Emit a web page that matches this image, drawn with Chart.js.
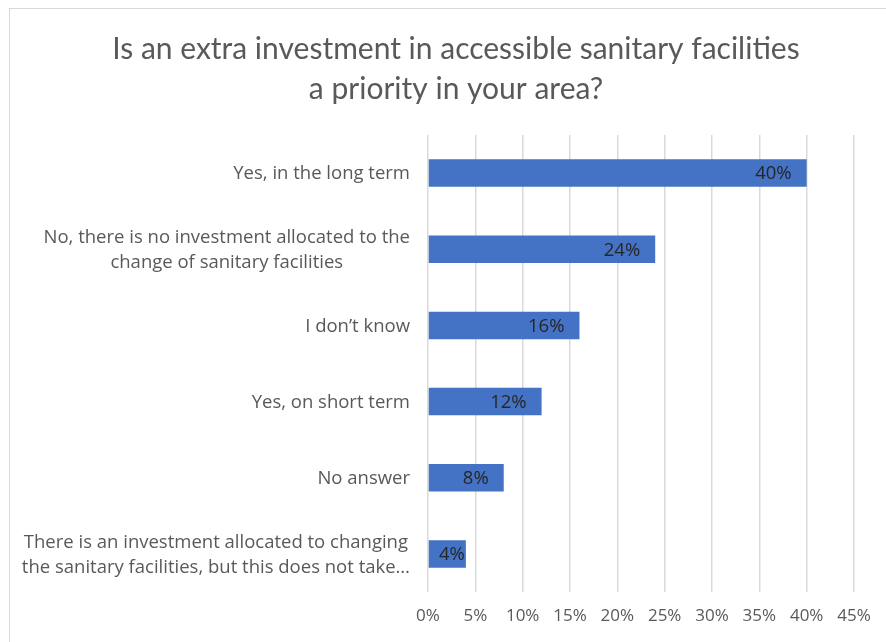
<!DOCTYPE html>
<html>
<head>
<meta charset="utf-8">
<script src="https://cdn.jsdelivr.net/npm/chart.js@4"></script>
<style>
  html, body { margin: 0; padding: 0; background: #fff; overflow: hidden; }
  #box {
    position: absolute; left: 9px; top: 8px;
    width: 897px; height: 638px;
    border: 1px solid #d9d9d9;
  }
</style>
</head>
<body>
<div id="box"><canvas id="bars"></canvas></div>
<script>
// survey answers, top to bottom
var categories = [
  ['Yes, in the long term'],
  ['No, there is no investment allocated to the', 'change of sanitary facilities'],
  ['I don\u2019t know'],
  ['Yes, on short term'],
  ['No answer'],
  ['There is an investment allocated to changing', 'the sanitary facilities, but this does not take\u2026']
];
var shares = [40, 24, 16, 12, 8, 4];
var xTicks = [0, 5, 10, 15, 20, 25, 30, 35, 40, 45];
var titleLines = ['Is an extra investment in accessible sanitary facilities', 'a priority in your area?'];

var grey = '#595959';
var font = '"Open Sans", Lato, sans-serif';

// two-line heading, centred on the whole box
var heading = {
  id: 'heading',
  afterDraw: function (chart) {
    var ctx = chart.ctx;
    ctx.save();
    ctx.font = '30px Lato, sans-serif';
    ctx.fillStyle = grey;
    ctx.textAlign = 'center';
    ctx.textBaseline = 'middle';
    titleLines.forEach(function (t, k) { ctx.fillText(t, 446, 40 + k * 40); });
    ctx.restore();
  }
};

// y labels: block right-aligned to the axis, lines centred inside the block
var categoryLabels = {
  id: 'categoryLabels',
  afterDraw: function (chart) {
    var ctx = chart.ctx, y = chart.scales.y;
    ctx.save();
    ctx.font = '18.5px ' + font;
    ctx.fillStyle = grey;
    ctx.textAlign = 'center';
    ctx.textBaseline = 'middle';
    var right = y.right - 18;
    var lh = 25;
    categories.forEach(function (lines, i) {
      var w = Math.max.apply(null, lines.map(function (t) { return ctx.measureText(t).width; }));
      var cx = right - w / 2;
      var cy = y.getPixelForTick(i) + 1 - (lines.length - 1) * lh / 2;
      lines.forEach(function (t, k) { ctx.fillText(t, cx, cy + k * lh); });
    });
    ctx.restore();
  }
};

// value labels at the inner end of each bar
var valueLabels = {
  id: 'valueLabels',
  afterDatasetsDraw: function (chart) {
    var ctx = chart.ctx;
    ctx.save();
    ctx.font = '18.5px ' + font;
    ctx.fillStyle = '#262626';
    ctx.textAlign = 'right';
    ctx.textBaseline = 'middle';
    chart.getDatasetMeta(0).data.forEach(function (bar, i) {
      var txt = shares[i] + '%';
      var w = ctx.measureText(txt).width;
      var x = bar.x - 15;
      if (x - w < bar.base + 4) x = bar.x - 1;
      ctx.fillText(txt, x, bar.y + 1);
    });
    ctx.restore();
  }
};

new Chart(document.getElementById('bars'), {
  type: 'bar',
  data: {
    labels: categories,
    datasets: [{
      data: shares,
      backgroundColor: '#4472C4',
      borderWidth: 0,
      categoryPercentage: 0.8,
      barPercentage: 0.45
    }]
  },
  options: {
    indexAxis: 'y',
    responsive: true,
    maintainAspectRatio: false,
    animation: false,
    layout: { padding: { left: 0, right: 53, top: 126, bottom: 0 } },
    plugins: {
      legend: { display: false },
      tooltip: { enabled: false },
      title: { display: false }
    },
    scales: {
      x: {
        min: 0,
        max: 45,
        afterBuildTicks: function (s) { s.ticks = xTicks.map(function (v) { return { value: v }; }); },
        afterFit: function (s) { s.height = 55; },
        border: { display: false },
        grid: { color: '#d9d9d9', lineWidth: 1.5, drawTicks: false },
        ticks: {
          color: grey,
          padding: 14,
          font: { family: font, size: 17 },
          callback: function (v) { return v + '%'; }
        }
      },
      y: {
        afterFit: function (s) { s.width = 418; },
        border: { display: false },
        grid: { display: false },
        ticks: { display: false }
      }
    }
  },
  plugins: [heading, categoryLabels, valueLabels]
});
</script>
</body>
</html>
